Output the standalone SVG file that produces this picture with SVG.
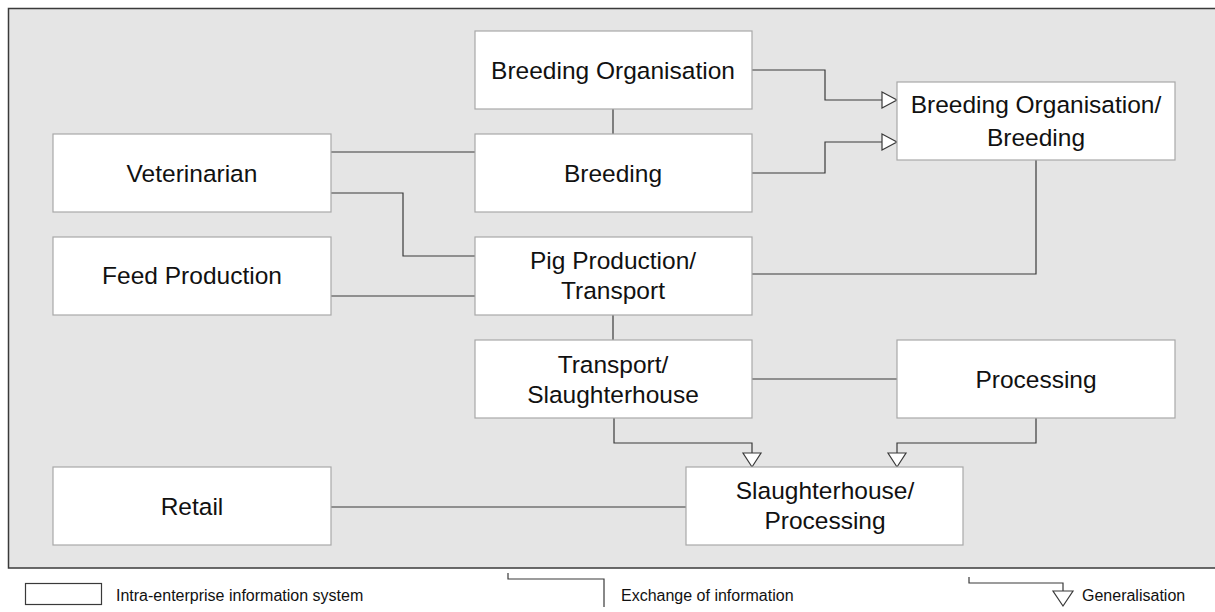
<svg xmlns="http://www.w3.org/2000/svg" width="1215" height="612" viewBox="0 0 1215 612">
  <defs>
    <style>
      .frame { fill: #e5e5e5; stroke: #3a3a3a; stroke-width: 1.5; }
      .box { fill: #ffffff; stroke: #a8a8a8; stroke-width: 1.2; }
      .lbl { font-family: "Liberation Sans", Arial, sans-serif; font-size: 24.5px; fill: #111; text-anchor: middle; }
      .leg { font-family: "Liberation Sans", Arial, sans-serif; font-size: 16px; fill: #111; }
      .con { fill: none; stroke: #3a3a3a; stroke-width: 1.2; }
      .gen { fill: #ffffff; stroke: #3a3a3a; stroke-width: 1.2; stroke-linejoin: miter; }
      .legbox { fill: #ffffff; stroke: #3a3a3a; stroke-width: 1.2; }
    </style>
  </defs>

  <rect x="0" y="0" width="1215" height="612" fill="#ffffff"/>
  <rect class="frame" x="8.5" y="8.5" width="1215" height="559.5"/>

  <!-- connectors -->
  <g id="connectors">
    <!-- generalisation: Breeding Organisation -> Breeding Organisation/Breeding -->
    <polyline class="con" points="752,70 825,70 825,100 882,100"/>
    <polygon class="gen" points="882,92 897,100 882,108"/>
    <!-- generalisation: Breeding -> Breeding Organisation/Breeding -->
    <polyline class="con" points="752,173 825,173 825,142 882,142"/>
    <polygon class="gen" points="882,134 897,142 882,150"/>
    <!-- information exchange -->
    <line class="con" x1="613" y1="109" x2="613" y2="134"/>
    <line class="con" x1="331" y1="152" x2="475" y2="152"/>
    <polyline class="con" points="331,193 403,193 403,256 475,256"/>
    <line class="con" x1="331" y1="296" x2="475" y2="296"/>
    <polyline class="con" points="1036,160 1036,274 752,274"/>
    <line class="con" x1="613" y1="315" x2="613" y2="340"/>
    <line class="con" x1="752" y1="379" x2="897" y2="379"/>
    <line class="con" x1="331" y1="507" x2="686" y2="507"/>
    <!-- generalisation: Transport/Slaughterhouse, Processing -> Slaughterhouse/Processing -->
    <polyline class="con" points="614,418 614,443 752,443 752,453"/>
    <polygon class="gen" points="743,453 761,453 752,467"/>
    <polyline class="con" points="1036,418 1036,443 897,443 897,453"/>
    <polygon class="gen" points="888,453 906,453 897,467"/>
  </g>

  <g id="breeding-organisation">
    <rect class="box" x="475" y="31" width="277" height="78"/>
    <text class="lbl" x="613" y="78.5">Breeding Organisation</text>
  </g>
  <g id="breeding-organisation-breeding">
    <rect class="box" x="897" y="82" width="278" height="78"/>
    <text class="lbl" x="1036" y="112.5">Breeding Organisation/</text>
    <text class="lbl" x="1036" y="146">Breeding</text>
  </g>
  <g id="veterinarian">
    <rect class="box" x="53" y="134" width="278" height="78"/>
    <text class="lbl" x="192" y="181.5">Veterinarian</text>
  </g>
  <g id="breeding">
    <rect class="box" x="475" y="134" width="277" height="78"/>
    <text class="lbl" x="613" y="181.5">Breeding</text>
  </g>
  <g id="feed-production">
    <rect class="box" x="53" y="237" width="278" height="78"/>
    <text class="lbl" x="192" y="284">Feed Production</text>
  </g>
  <g id="pig-production-transport">
    <rect class="box" x="475" y="237" width="277" height="78"/>
    <text class="lbl" x="613" y="269">Pig Production/</text>
    <text class="lbl" x="613" y="298.5">Transport</text>
  </g>
  <g id="transport-slaughterhouse">
    <rect class="box" x="475" y="340" width="277" height="78"/>
    <text class="lbl" x="613" y="372.5">Transport/</text>
    <text class="lbl" x="613" y="403">Slaughterhouse</text>
  </g>
  <g id="processing">
    <rect class="box" x="897" y="340" width="278" height="78"/>
    <text class="lbl" x="1036" y="387.5">Processing</text>
  </g>
  <g id="retail">
    <rect class="box" x="53" y="467" width="278" height="78"/>
    <text class="lbl" x="192" y="514.5">Retail</text>
  </g>
  <g id="slaughterhouse-processing">
    <rect class="box" x="686" y="467" width="277" height="78"/>
    <text class="lbl" x="825" y="498.5">Slaughterhouse/</text>
    <text class="lbl" x="825" y="529">Processing</text>
  </g>

  <!-- legend -->
  <g id="legend">
    <rect class="legbox" x="25.5" y="583.5" width="76" height="21"/>
    <text class="leg" x="116" y="601">Intra-enterprise information system</text>
    <polyline class="con" points="508,573 508,579 604,579 604,607"/>
    <text class="leg" x="621" y="601">Exchange of information</text>
    <polyline class="con" points="969,577 969,583 1063,583 1063,591"/>
    <polygon class="gen" points="1053,591 1073,591 1063,606"/>
    <text class="leg" x="1082" y="601">Generalisation</text>
  </g>
</svg>
